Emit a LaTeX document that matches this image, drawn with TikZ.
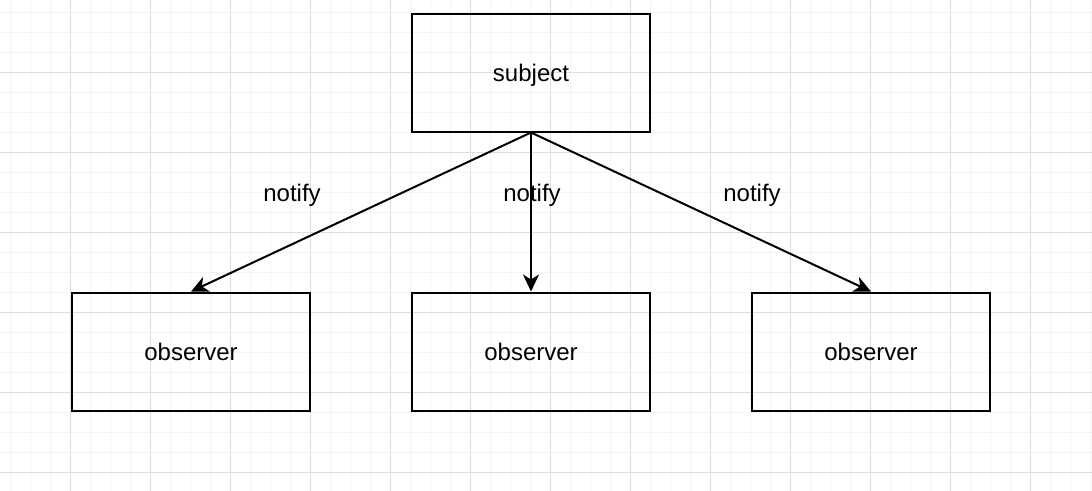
\documentclass[tikz,border=0pt]{standalone}
\usepackage{fontspec}
\setmainfont{Liberation Sans}
\usepackage{tikz}
\usetikzlibrary{positioning,arrows.meta}
\definecolor{minorgray}{HTML}{F4F4F4}
\definecolor{majorgray}{HTML}{DEDEDE}

\begin{document}
\begin{tikzpicture}
    [ x = 1pt, y = -1pt
    , box/.style =
      { draw, line width = 2pt, minimum width = 238pt, minimum height = 118pt
      , text depth = 0pt, font = \fontsize{24}{28}\selectfont }
    , notify/.style =
      { line width = 2pt, -{Stealth[length=17pt, width=16pt, inset=5pt]} }
    , lbl/.style =
      { text depth = 0pt, font = \fontsize{24}{28}\selectfont }
    , minorgrid/.style =
      { minorgray, line width = 1pt }
    , majorgrid/.style =
      { majorgray, line width = 1pt }
    ]
    \useasboundingbox (0,0) rectangle (1092,490);
    \begin{scope}
      \clip (0,0) rectangle (1092,490);
      \draw [minorgrid, shift={(10,12)}, step=20pt] (-20,-20) grid (1100,500);
      \draw [majorgrid, shift={(70,72)}, step=80pt] (-80,-80) grid (1100,500);
    \end{scope}

    \node [box] (subject) at (531,72.5) {subject};
    \node [box] (obs2) [below=159pt of subject] {observer};
    \node [box] (obs1) [left=100pt of obs2] {observer};
    \node [box] (obs3) [right=100pt of obs2] {observer};

    \draw [notify] (subject.south) -- (obs1.north);
    \draw [notify] (subject.south) -- (obs2.north);
    \draw [notify] (subject.south) -- (obs3.north);

    \node [lbl] (lbl1) at (292,193) {notify};
    \node [lbl] (lbl2) at (532,193) {notify};
    \node [lbl] (lbl3) at (752,193) {notify};
  \end{tikzpicture}
\end{document}
